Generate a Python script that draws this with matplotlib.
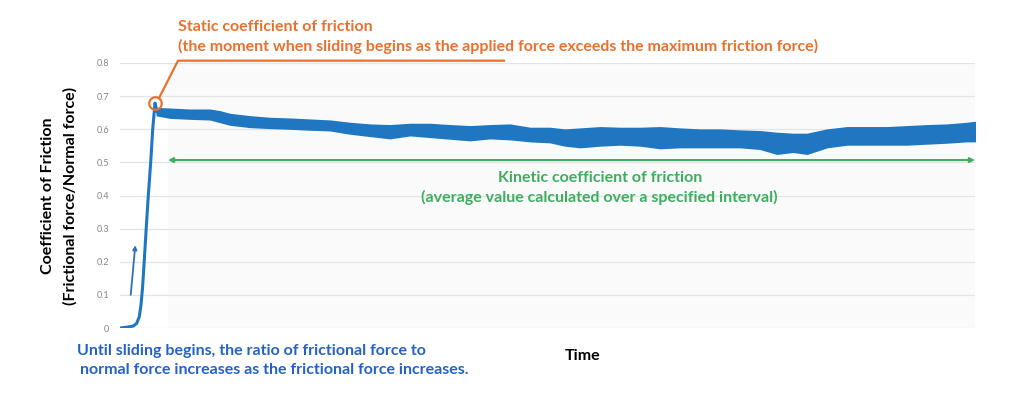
import numpy as np
import matplotlib
matplotlib.use("Agg")
import matplotlib.pyplot as plt

# time axis has no units in the chart, so use an arbitrary scale (0..855)
t_rise = [0, 8, 13.3, 16.7, 19.3, 21.0, 22.5, 24.2, 26.2, 28.3, 30.7, 32.7, 35]
cof_rise = [0.0, 0.003, 0.006, 0.014, 0.034, 0.070, 0.120, 0.200, 0.300,
            0.400, 0.500, 0.600, 0.679]

t_band = [37, 50, 70, 90, 100, 110, 130, 150, 170, 190, 210, 230, 250, 270, 290,
          310, 330, 350, 370, 390, 410, 430, 445, 460, 480, 500, 520, 540, 560,
          580, 600, 620, 640, 657, 673, 687, 707, 727, 747, 767, 787, 807, 827,
          847, 855]
cof_upper = [0.663, 0.661, 0.658, 0.658, 0.653, 0.645, 0.638, 0.633, 0.631, 0.628,
             0.625, 0.618, 0.613, 0.611, 0.615, 0.615, 0.611, 0.608, 0.611, 0.613,
             0.603, 0.603, 0.598, 0.601, 0.605, 0.603, 0.603, 0.605, 0.601, 0.598,
             0.598, 0.595, 0.593, 0.588, 0.585, 0.585, 0.598, 0.605, 0.605, 0.605,
             0.608, 0.611, 0.613, 0.618, 0.621]
cof_lower = [0.643, 0.636, 0.633, 0.631, 0.623, 0.615, 0.608, 0.605, 0.603, 0.600,
             0.598, 0.588, 0.581, 0.574, 0.583, 0.578, 0.573, 0.568, 0.574, 0.571,
             0.565, 0.562, 0.552, 0.547, 0.552, 0.555, 0.552, 0.544, 0.547, 0.547,
             0.547, 0.547, 0.542, 0.527, 0.533, 0.527, 0.547, 0.555, 0.555, 0.555,
             0.555, 0.558, 0.561, 0.565, 0.565]

y_ticks = [0, 0.1, 0.2, 0.3, 0.4, 0.5, 0.6, 0.7, 0.8]
y_ticklabels = ["0", "0.1", "0.2", "0.3", "0.4", "0.5", "0.6", "0.7", "0.8"]

kinetic_start, kinetic_end, kinetic_level = 48, 855, 0.507
static_point = (35, 0.68)

blue = "#1F77C2"
orange = "#E8712E"
green = "#3DAE5F"
text_blue = "#2462C6"

plt.rcParams["font.family"] = ["Lato", "DejaVu Sans"]

fig = plt.figure(figsize=(10.24, 4.09), dpi=100)
ax = fig.add_axes([120 / 1024, 1 - 328 / 409, 855 / 1024, 265 / 409])

ax.set_xlim(0, 855)
ax.set_ylim(0, 0.8)
ax.axvspan(kinetic_start, kinetic_end, color="#fafafa", zorder=0, lw=0)
for y in y_ticks:
    ax.axhline(y, color="#e4e4e4", lw=0.9, zorder=1)

ax.fill_between(t_band, cof_lower, cof_upper, color=blue, lw=1.5, edgecolor=blue, zorder=3)
ax.plot(t_rise + [t_band[0]], cof_rise + [(cof_upper[0] + cof_lower[0]) / 2],
        color=blue, lw=2.2, zorder=3, solid_capstyle="round")

ax.set_yticks(y_ticks)
ax.set_yticklabels(y_ticklabels, color="#858585", fontsize=6.5)
ax.set_xticks([])
ax.tick_params(axis="y", length=0, pad=8)
for s in ax.spines.values():
    s.set_visible(False)

# static friction marker and leader line
ax.plot(*static_point, marker="o", ms=9, mfc="none", mec=orange, mew=1.6, zorder=5, clip_on=False)
ax.plot([39, 58, 384], [0.694, 0.807, 0.807], color=orange, lw=1.6, clip_on=False, zorder=5)

# kinetic interval arrow
ax.annotate("", xy=(kinetic_end, kinetic_level), xytext=(kinetic_start, kinetic_level),
            arrowprops=dict(arrowstyle="<|-|>", color=green, lw=1.5,
                            mutation_scale=7, shrinkA=0, shrinkB=0), zorder=4)

# small rising arrow
ax.annotate("", xy=(15.3, 0.25), xytext=(10.7, 0.10),
            arrowprops=dict(arrowstyle="-|>", color="#2F6EBA", lw=1.3,
                            mutation_scale=6, shrinkA=0, shrinkB=0))

def fx(px):
    return px / 1024

def fy(py):
    return 1 - py / 409

fs = 11.5
fig.text(fx(178), fy(27), "Static coefficient of friction", color=orange,
         fontsize=fs, fontweight="bold", va="center", ha="left")
fig.text(fx(178), fy(46), "(the moment when sliding begins as the applied force exceeds the maximum friction force)",
         color=orange, fontsize=fs, fontweight="bold", va="center", ha="left")

fig.text(fx(600), fy(178), "Kinetic coefficient of friction", color=green,
         fontsize=fs, fontweight="bold", va="center", ha="center")
fig.text(fx(599), fy(197), "(average value calculated over a specified interval)", color=green,
         fontsize=fs, fontweight="bold", va="center", ha="center")

fig.text(fx(77), fy(351), "Until sliding begins, the ratio of frictional force to", color=text_blue,
         fontsize=fs, fontweight="bold", va="center", ha="left")
fig.text(fx(80), fy(370), "normal force increases as the frictional force increases.", color=text_blue,
         fontsize=fs, fontweight="bold", va="center", ha="left")

fig.text(fx(48), fy(196), "Coefficient of Friction", color="black", fontsize=fs,
         fontweight="bold", rotation=90, va="center", ha="center")
fig.text(fx(70), fy(196), "(Frictional force/Normal force)", color="black", fontsize=fs,
         fontweight="bold", rotation=90, va="center", ha="center")

fig.text(fx(583), fy(356), "Time", color="black", fontsize=fs, fontweight="bold",
         va="center", ha="center")

fig.savefig("out.png", dpi=100, facecolor="white")
